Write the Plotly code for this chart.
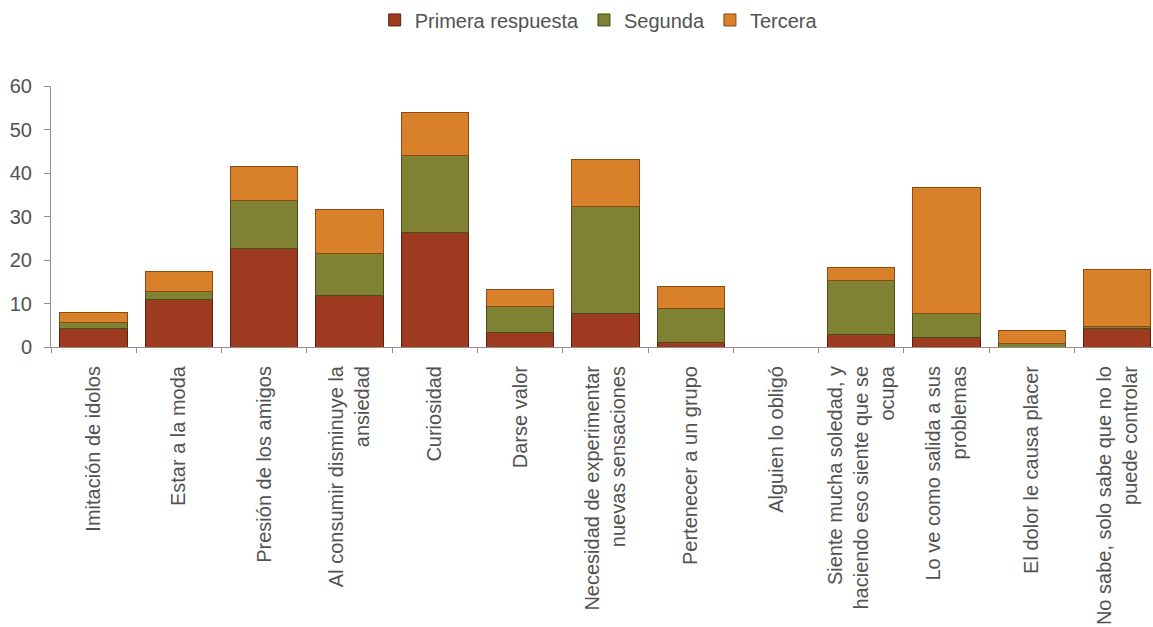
import plotly.graph_objects as go

categories = [
    "Imitación de idolos",
    "Estar a la moda",
    "Presión de los amigos",
    "Al consumir disminuye la<br>ansiedad",
    "Curiosidad",
    "Darse valor",
    "Necesidad de experimentar<br>nuevas sensaciones",
    "Pertenecer a un grupo",
    "Alguien lo obligó",
    "Siente mucha soledad, y<br>haciendo eso siente que se<br>ocupa",
    "Lo ve como salida a sus<br>problemas",
    "El dolor le causa placer",
    "No sabe, solo sabe que no lo<br>puede controlar",
]
primera = [4.2, 10.9, 22.7, 11.8, 26.4, 3.4, 7.8, 1.1, 0, 2.9, 2.2, 0, 4.2]
segunda = [1.5, 1.9, 10.9, 9.8, 17.6, 5.8, 24.5, 7.8, 0, 12.4, 5.6, 0.8, 0.6]
tercera = [2.3, 4.6, 8.0, 10.0, 10.0, 4.0, 10.8, 4.9, 0, 3.0, 28.9, 2.9, 13.0]
y_ticks = [0, 10, 20, 30, 40, 50, 60]

series = [
    ("Primera respuesta", primera, "#9E3A1F", "#5e2010"),
    ("Segunda", segunda, "#7E8232", "#4a4c1a"),
    ("Tercera", tercera, "#D8812A", "#8a4a12"),
]

fig = go.Figure()
for name, vals, col, lc in series:
    fig.add_trace(go.Bar(
        x=categories, y=vals, name=name,
        marker=dict(color=col, line=dict(color=lc, width=1)),
    ))

font = "Liberation Sans, Arial, sans-serif"
txt = "#525252"
axc = "#9c8c88"
fig.update_layout(
    barmode="stack",
    bargap=0.21,
    width=1153, height=627,
    paper_bgcolor="white", plot_bgcolor="white",
    margin=dict(l=51, r=0, t=86, b=280),
    font=dict(family=font, size=20, color=txt),
    legend=dict(orientation="h", x=0.497, xanchor="center", y=1.253, yanchor="middle",
                font=dict(size=20, color=txt), itemwidth=30, traceorder="normal"),
    showlegend=True,
)
fig.update_xaxes(
    range=[-0.5, 12.42], automargin=False,
    tickangle=-90, showline=True, linecolor=axc, linewidth=1,
    ticks="outside", tickson="boundaries", ticklen=5, tickcolor=axc,
    ticklabelstandoff=10,
    tickfont=dict(size=20, color=txt), showgrid=False,
)
fig.update_yaxes(
    range=[0, 60], tickvals=y_ticks, automargin=False,
    showline=True, linecolor=axc, linewidth=1,
    ticks="outside", ticklen=6, tickcolor=axc, showgrid=False, zeroline=False,
    ticklabelstandoff=8,
    tickfont=dict(size=20, color=txt),
)

fig.write_html(
    "out.html",
    config={"displayModeBar": False},
    post_script="document.body.style.margin='0';document.body.style.overflow='hidden';",
)
